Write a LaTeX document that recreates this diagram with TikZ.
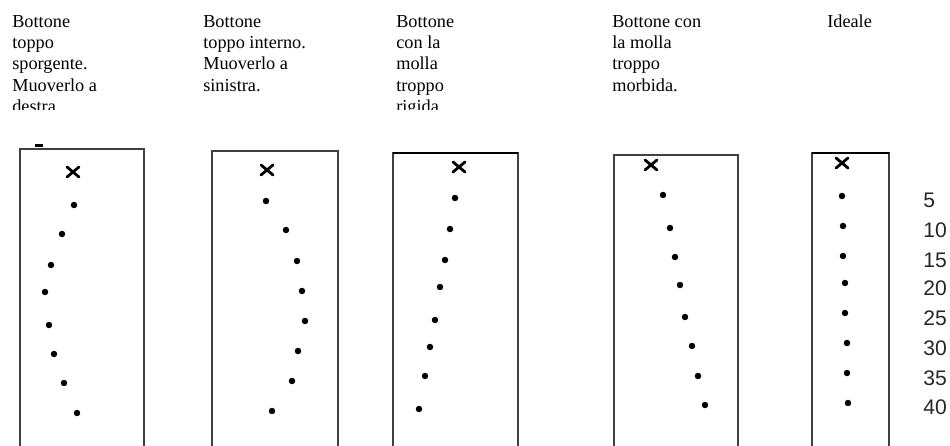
\documentclass[tikz,border=0pt]{standalone}
\usepackage{fontspec}
\setmainfont{Liberation Serif}
\newfontfamily\numfont{Liberation Sans}
\tikzset{
  titolo/.style={anchor=north west, align=left, inner sep=0pt, font=\fontsize{13}{15.15}\selectfont},
  scatola/.style={draw=black!75, line width=0.85pt},
  croce/.style={line width=2pt, line cap=round},
  numero/.style={anchor=west, inner sep=0pt, font=\numfont\fontsize{15}{16}\selectfont, text=black!85}
}
\newcommand{\croce}[2]{\draw[croce] (#1-6,#2-5) -- (#1+6,#2+5) (#1-6,#2+5) -- (#1+6,#2-5);}
\begin{document}
\begin{tikzpicture}[x=0.025cm, y=-0.025cm]
  \useasboundingbox (0,0) rectangle (950,446);
  % titles (last lines cut off as in the original)
  \begin{scope}
    \clip (0,0) rectangle (950,110);
    \node[titolo] (t1) at (12,15) {Bottone\\toppo\\sporgente.\\Muoverlo a\\destra};
    \node[titolo] (t2) at (203,15) {Bottone\\toppo interno.\\Muoverlo a\\sinistra.};
    \node[titolo] (t3) at (396,15) {Bottone\\con la\\molla\\troppo\\rigida};
    \node[titolo] (t4) at (612,15) {Bottone con\\la molla\\troppo\\morbida.};
    \node[titolo] (t5) at (827,15) {Ideale};
  \end{scope}
  % boxes
  \draw[scatola] (20,446) -- (20,149) -- (144,149) -- (144,446);
  \fill (35,144) rectangle (43,147);
  \draw[scatola] (212,446) -- (212,151) -- (338,151) -- (338,446);
  \draw[scatola] (393,446) -- (393,153) -- (518,153) -- (518,446);
  \draw[line width=1.7pt] (393,153) -- (518,153);
  \draw[scatola] (614,446) -- (614,155) -- (738,155) -- (738,446);
  \draw[scatola] (812,446) -- (812,153) -- (889,153) -- (889,446);
  \draw[line width=1.7pt] (812,153) -- (889,153);
  % starting points
  \croce{73}{172}
  \croce{267}{170}
  \croce{459}{167}
  \croce{651}{165}
  \croce{842}{163}
  % hits
  \foreach \x/\y in {74/205, 62/234, 51/265, 45/292, 49/325, 54/354, 64/383, 77/413,
                     266/201, 286/230, 297/261, 302/291, 305/321, 298/351, 292/381, 272/411,
                     455/198, 450/229, 445/260, 440/287, 435/320, 430/347, 425/376, 419/409,
                     663/195, 670/228, 675/257, 680/285, 685/317, 692/346, 698/376, 705/405,
                     842/196, 843/226, 843/256, 845/283, 845/313, 847/343, 847/373, 848/403}
    \fill (\x,\y) circle (2.3pt);
  % scale
  \foreach \n/\y in {5/200, 10/230, 15/260, 20/288, 25/318, 30/348, 35/378, 40/407}
    \node[numero] (n\n) at (923,\y) {\n};
\end{tikzpicture}
\end{document}
